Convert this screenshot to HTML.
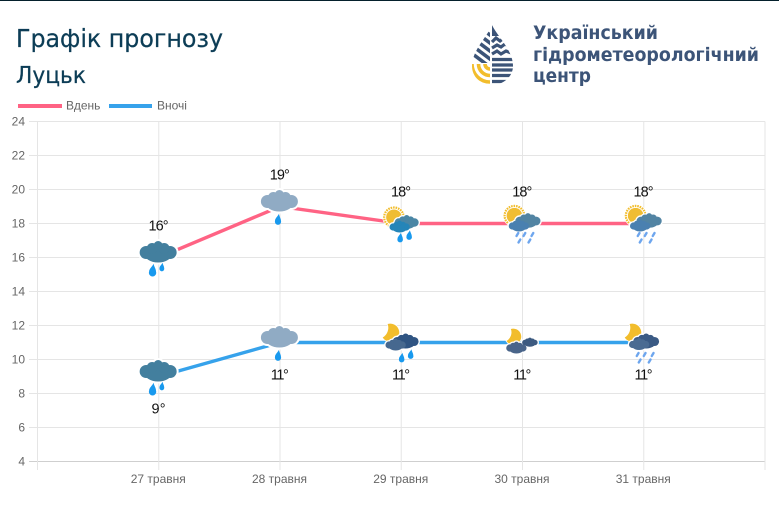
<!DOCTYPE html>
<html lang="uk">
<head>
<meta charset="utf-8">
<title>Графік прогнозу</title>
<style>
html,body{margin:0;padding:0;background:#fff;width:779px;height:522px;overflow:hidden}
svg{display:block;position:absolute;left:0;top:0}
text{font-family:"Liberation Sans",sans-serif}
.wide{font-family:"DejaVu Sans","Liberation Sans",sans-serif}
</style>
</head>
<body>
<svg id="chart" width="779" height="522" viewBox="0 0 779 522" xmlns="http://www.w3.org/2000/svg">
  <defs>
    <clipPath id="drop-clip"><path d="M492 25 C488 36 472 50 472 66 C472 77 481 85 492 85 C503 85 513 77 513 66 C513 50 497 36 492 25Z"/></clipPath>
    <clipPath id="left-clip"><rect x="470" y="24" width="20" height="39"/></clipPath>
    <clipPath id="yellow-clip"><rect x="470" y="64" width="20" height="23"/></clipPath>
  </defs>
  <rect x="0" y="0" width="779" height="1" fill="#04202c"/>
  <text class="wide" x="16" y="47" font-size="25" fill="#0c3d56" stroke="#0c3d56" stroke-width="0.25" textLength="207" lengthAdjust="spacingAndGlyphs">Графік прогнозу</text>
  <text class="wide" x="16" y="83" font-size="23" fill="#0c3d56" stroke="#0c3d56" stroke-width="0.25" textLength="70" lengthAdjust="spacingAndGlyphs">Луцьк</text>

  <g clip-path="url(#drop-clip)">
    <g clip-path="url(#left-clip)" stroke="#3c5478" stroke-width="3.6" fill="none">
      <path d="M478 26 L494 38"/>
      <path d="M474 31 L494 46"/>
      <path d="M470 36 L494 54"/>
      <path d="M466 41 L494 62"/>
      <path d="M466 49 L494 70"/>
    </g>
    <g stroke="#f2bd2c" fill="none" stroke-width="3.6" clip-path="url(#yellow-clip)">
      <circle cx="490" cy="64" r="5"/>
      <circle cx="490" cy="64" r="11.5"/>
      <circle cx="490" cy="64" r="18"/>
    </g>
    <path d="M492 25 L500 36 L492 36 Z" fill="#3c5478"/>
    <g stroke="#3c5478" stroke-width="3.2" fill="none">
      <path d="M492 42 L496 38 L500 41 L504 38 L509 42"/>
      <path d="M492 48 L497 45 L501 47 L505 44 L512 48"/>
      <path d="M492 54 L497 51 L501 54 L506 51 L514 54"/>
      <path d="M492 59.5 L514 59.5"/>
      <path d="M492 65 L514 65"/>
      <path d="M492 70 L514 70"/>
      <path d="M492 75.5 L514 75.5"/>
      <path d="M492 81.5 L514 81.5"/>
    </g>
  </g>
  <g font-weight="700" fill="#3c5478" font-size="18.5">
    <text class="wide" x="533" y="39" textLength="125" lengthAdjust="spacingAndGlyphs">Український</text>
    <text class="wide" x="533" y="61" textLength="226" lengthAdjust="spacingAndGlyphs">гідрометеорологічний</text>
    <text class="wide" x="533" y="82" textLength="58" lengthAdjust="spacingAndGlyphs">центр</text>
  </g>

  <g>
    <rect x="18" y="104" width="44" height="4" fill="#ff6384"/>
    <text x="66" y="109.5" font-size="12" fill="#666">Вдень</text>
    <rect x="109" y="104" width="43" height="4" fill="#36a2eb"/>
    <text x="157" y="109.5" font-size="12" fill="#666">Вночі</text>
  </g>
  <g id="grid"></g>
  <g id="lines"></g>
  <g id="icons"></g>
  <g id="labels"></g>
</svg>
<script>
const categories = ['', '27 травня', '28 травня', '29 травня', '30 травня', '31 травня', ''];
const yTicks = [4, 6, 8, 10, 12, 14, 16, 18, 20, 22, 24];
const dayValues = [null, 16, 19, 18, 18, 18, null];
const nightValues = [null, 9, 11, 11, 11, 11, null];
const dayIcons = [null, 'rain-dark', 'rain-light', 'sun-rain', 'sun-shower', 'sun-shower', null];
const nightIcons = [null, 'rain-dark', 'rain-light', 'moon-rain', 'moon-cloud', 'moon-shower', null];

const NS = 'http://www.w3.org/2000/svg';
const xScale = i => 37.5 + i * (765 - 37.5) / (categories.length - 1);
const yScale = v => 461.5 - (v - 4) * 17;

function make(tag, attrs, parent, text) {
  const el = document.createElementNS(NS, tag);
  for (const k in attrs) el.setAttribute(k, attrs[k]);
  if (text !== undefined) el.textContent = text;
  parent.appendChild(el);
  return el;
}

const grid = document.getElementById('grid');
yTicks.forEach(v => {
  const y = yScale(v);
  const gl = make('line', {x1: 29, x2: 765, y1: y, y2: y, stroke: v === 4 ? '#cfcfcf' : '#e5e5e5'}, grid);
  
  
  const t = make('text', {x: 25, y: y + 4.2, 'text-anchor': 'end', 'font-size': 12, fill: '#666'}, grid, String(v));
  
  
});
categories.forEach((c, i) => {
  const x = xScale(i);
  const gl = make('line', {x1: x, x2: x, y1: 121.5, y2: 470, stroke: '#e5e5e5'}, grid);
  
  
  if (c) {
    const t = make('text', {x: x - 0.5, y: 483, 'text-anchor': 'middle', 'font-size': 12, fill: '#666'}, grid, c);
    
    
  }
});

const lobes = [[-12, 0, 6.5, 6.5], [12, 0, 6.5, 6.5], [0, 1, 14, 9], [-6, -4, 5.5, 5.5], [6, -4, 5.5, 5.5], [0, -7, 4.5, 4.5]];
function cloudShape(p, dx, dy, s, fill, halo) {
  lobes.forEach(q => {
    const a = {cx: dx + q[0] * s, cy: dy + q[1] * s, rx: q[2] * s, ry: q[3] * s, fill: fill};
    if (halo) { a.stroke = '#fff'; a['stroke-width'] = s < 1 ? 2.6 : 4; }
    make('ellipse', a, p);
  });
}
function drop(p, dx, dy, s, fill) {
  make('path', {d: `M${dx + 1 * s} ${dy - 6 * s} C${dx + 1.5 * s} ${dy - 3 * s} ${dx + 3.3 * s} ${dy - 1 * s} ${dx + 3.3 * s} ${dy + 1.5 * s} A${3.5 * s} ${3.5 * s} 0 1 1 ${dx - 3.3 * s} ${dy + 1.5 * s} C${dx - 3.3 * s} ${dy - 1 * s} ${dx - 0.5 * s} ${dy - 3 * s} ${dx + 1 * s} ${dy - 6 * s} Z`, fill: fill || '#1899ee'}, p);
}
const streakOffsets = [[-6.5, -2], [0.5, -2], [8.5, -2], [-4.5, 4.5], [5.5, 4.5]];
function streaks(p, dx, dy) {
  streakOffsets.forEach(q => {
    make('line', {x1: dx + q[0] + 0.9, y1: dy + q[1] - 1.5, x2: dx + q[0] - 0.9, y2: dy + q[1] + 1.5, stroke: '#6ea6ee', 'stroke-width': 2.4, 'stroke-linecap': 'round'}, p);
  });
}
function sun(p, dx, dy) {
  make('circle', {cx: dx, cy: dy, r: 11.5, fill: '#fff'}, p);
  make('circle', {cx: dx, cy: dy, r: 9.8, fill: 'none', stroke: '#f2bd2c', 'stroke-width': 2.2, 'stroke-dasharray': '1.6 0.9'}, p);
  make('circle', {cx: dx, cy: dy, r: 7.8, fill: '#f0bd33'}, p);
}
function moon(p, cx, cy, r) {
  const ax = cx - 0.5 * r, ay = cy - r, bx = cx - 1.05 * r, by = cy + 0.5 * r;
  make('path', {d: `M${ax} ${ay} A${r} ${r} 0 1 1 ${bx} ${by} A${1.25 * r} ${1.25 * r} 0 0 0 ${ax} ${ay} Z`, fill: '#f2bd2c', stroke: '#fff', 'stroke-width': 1.5, 'paint-order': 'stroke'}, p);
}
function drawIcon(p, kind) {
  if (kind === 'rain-dark') {
    cloudShape(p, 0, -5, 1, '#fff', true);
    cloudShape(p, 0, -5, 1, '#437f9e');
    drop(p, -5.6, 12.5, 1.05);
    drop(p, 3.7, 9.5, 0.7);
  } else if (kind === 'rain-light') {
    cloudShape(p, 0, -5, 1, '#fff', true);
    cloudShape(p, 0, -5, 1, '#90abc4');
    drop(p, -1.4, 12.8, 0.9);
  } else if (kind === 'sun-rain') {
    sun(p, -6.7, -6.2);
    cloudShape(p, 6, -1, 0.65, '#fff', true);
    cloudShape(p, -1, 3.5, 0.55, '#fff', true);
    cloudShape(p, 6, -1, 0.65, '#4a86a5');
    cloudShape(p, -1, 3.5, 0.55, '#2585b8');
    drop(p, -0.5, 14, 0.8);
    drop(p, 8.5, 11.5, 0.8);
  } else if (kind === 'sun-shower') {
    sun(p, -7.5, -7.8);
    cloudShape(p, 6, -2.5, 0.68, '#fff', true);
    cloudShape(p, -3, 2.5, 0.55, '#fff', true);
    cloudShape(p, 6, -2.5, 0.68, '#5284a3');
    cloudShape(p, -3, 2.5, 0.55, '#4a80b0');
    streaks(p, 2, 13);
  } else if (kind === 'moon-rain') {
    moon(p, -8.5, -9.5, 9);
    cloudShape(p, 5, -1, 0.7, '#fff', true);
    cloudShape(p, -5, 2.5, 0.55, '#fff', true);
    cloudShape(p, 5, -1, 0.7, '#2f5482');
    cloudShape(p, -5, 2.5, 0.55, '#46688f');
    drop(p, 1, 15, 0.8);
    drop(p, 10, 11.5, 0.8);
  } else if (kind === 'moon-cloud') {
    moon(p, -7, -5.5, 8);
    cloudShape(p, 8, 0, 0.42, '#fff', true);
    cloudShape(p, -5.5, 5.5, 0.55, '#fff', true);
    cloudShape(p, 8, 0, 0.42, '#3d5a80');
    cloudShape(p, -5.5, 5.5, 0.55, '#4a658a');
  } else if (kind === 'moon-shower') {
    moon(p, -9, -9.5, 9);
    cloudShape(p, 3, -1, 0.7, '#fff', true);
    cloudShape(p, -4, 2, 0.55, '#fff', true);
    cloudShape(p, 3, -1, 0.7, '#3a5a84');
    cloudShape(p, -4, 2, 0.55, '#4a6b92');
    streaks(p, 1, 14);
  }
}

const linesG = document.getElementById('lines');
const iconsG = document.getElementById('icons');
const labelsG = document.getElementById('labels');

function drawSeries(values, icons, color, name, labelOffset) {
  const pts = [];
  values.forEach((v, i) => { if (v !== null) pts.push(xScale(i) + ',' + yScale(v)); });
  const line = make('polyline', {points: pts.join(' '), fill: 'none', stroke: color, 'stroke-width': 3.4}, linesG);
  
  
  values.forEach((v, i) => {
    if (v === null) return;
    const x = xScale(i), y = yScale(v);
    const g = make('g', {transform: `translate(${x - 0.6},${y})`}, iconsG);
    
    
    drawIcon(g, icons[i]);
    const label = v + '°';
    const width = label.length === 2 ? 14 : (label.startsWith('11') ? 18 : 20);
    const t = make('text', {x: x - 0.2 - width / 2, y: y + labelOffset, 'font-size': 14.5, fill: '#111', textLength: width, lengthAdjust: 'spacing'}, labelsG, label);
    
    
  });
}
drawSeries(dayValues, dayIcons, '#ff6384', 'day', -27);
drawSeries(nightValues, nightIcons, '#36a2eb', 'night', 37);
</script>
</body>
</html>
